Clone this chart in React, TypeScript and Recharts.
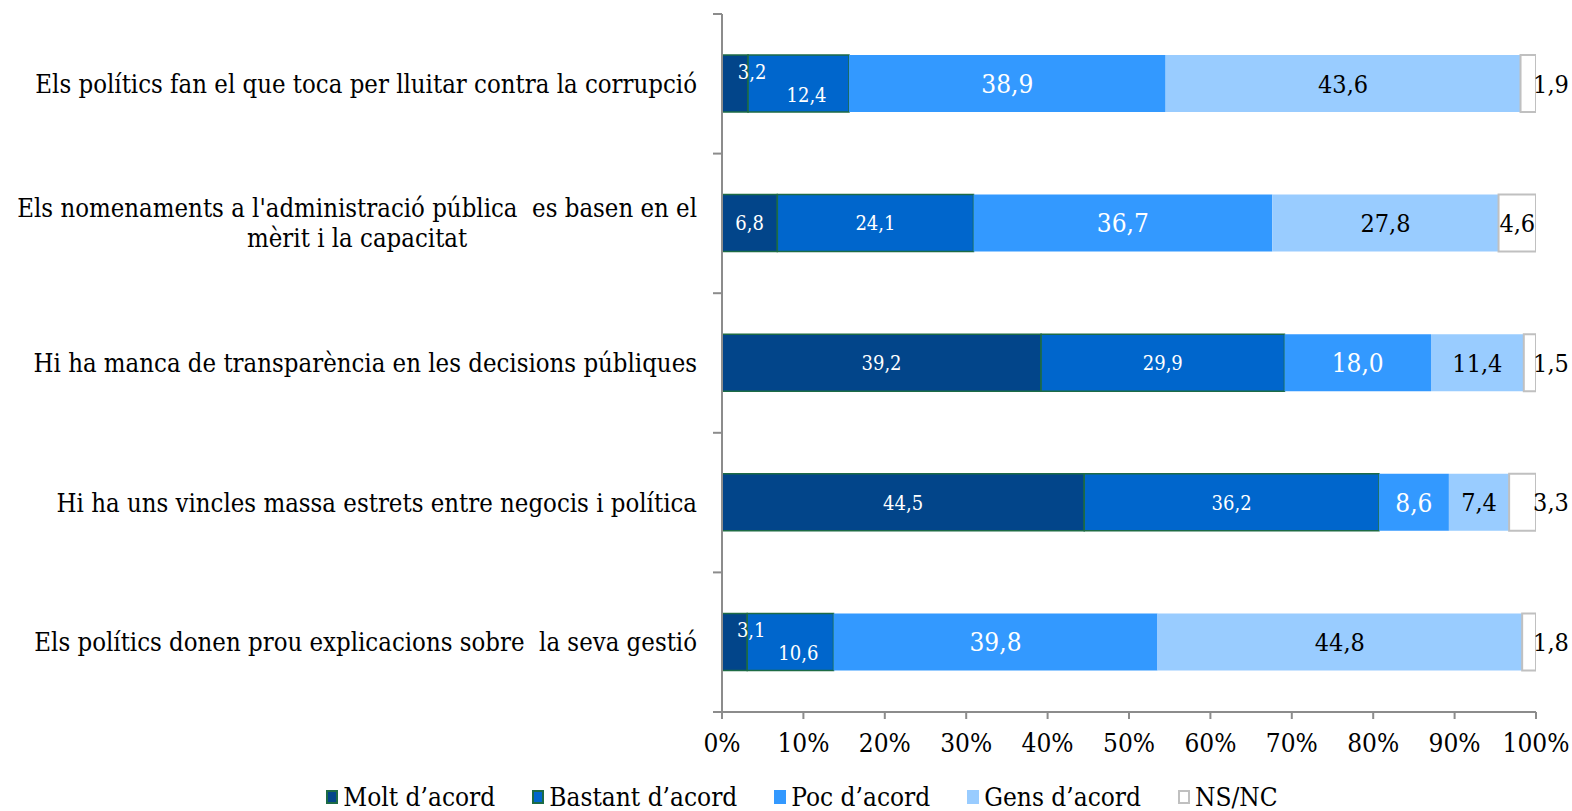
import React from 'react';
import { BarChart, Bar, XAxis, YAxis, LabelList } from 'recharts';

const categories = [
  'Els polítics fan el que toca per lluitar contra la corrupció',
  "Els nomenaments a l'administració pública  es basen en el\nmèrit i la capacitat",
  'Hi ha manca de transparència en les decisions públiques',
  'Hi ha uns vincles massa estrets entre negocis i política',
  'Els polítics donen prou explicacions sobre  la seva gestió',
];
const molt = [3.2, 6.8, 39.2, 44.5, 3.1];
const bastant = [12.4, 24.1, 29.9, 36.2, 10.6];
const poc = [38.9, 36.7, 18.0, 8.6, 39.8];
const gens = [43.6, 27.8, 11.4, 7.4, 44.8];
const nsnc = [1.9, 4.6, 1.5, 3.3, 1.8];
const xTicks = [0, 10, 20, 30, 40, 50, 60, 70, 80, 90, 100];

const seriesNames = ['Molt d’acord', 'Bastant d’acord', 'Poc d’acord', 'Gens d’acord', 'NS/NC'];

const FONT = "'DejaVu Serif Condensed', 'DejaVu Serif', serif";
const AXIS = '#8c8c8c';
const GREEN = '#1d6b45';
const COLORS = ['#02458a', '#0066cc', '#3399ff', '#99ccff', '#ffffff'];
const STROKES = [GREEN, GREEN, 'none', 'none', '#c0c0c0'];

const W = 1572;
const H = 811;
const TOP = 14;
const PLOT_BOTTOM = 712;
const AXIS_X = 722;
const BAND = (PLOT_BOTTOM - TOP) / categories.length;

const data = categories.map((name, i) => ({
  name,
  molt: molt[i],
  bastant: bastant[i],
  poc: poc[i],
  gens: gens[i],
  nsnc: nsnc[i],
}));

const fmt = (v: number) => v.toFixed(1).replace('.', ',');

let ctx: CanvasRenderingContext2D | null = null;
const measure = (text: string, size: number) => {
  if (!ctx) ctx = document.createElement('canvas').getContext('2d');
  if (!ctx) return text.length * size * 0.45;
  ctx.font = `${size}px ${FONT}`;
  return ctx.measureText(text).width;
};

const CategoryTick = (props: any) => {
  const { y, payload, index } = props;
  const lines: string[] = String(payload.value).split('\n');
  const size = 25.5;
  const right = AXIS_X - 25;
  const top = y - BAND / 2;
  let text;
  if (lines.length === 1) {
    text = (
      <text x={right} y={y} dy="0.35em" textAnchor="end" fontSize={size} fontFamily={FONT}
        style={{ whiteSpace: 'pre', fontStretch: 'condensed' }} fill="#000">
        {lines[0]}
      </text>
    );
  } else {
    const w = Math.max(...lines.map((l) => measure(l, size)));
    const cx = right - w / 2;
    text = (
      <text x={cx} y={y} textAnchor="middle" fontSize={size} fontFamily={FONT}
        style={{ whiteSpace: 'pre', fontStretch: 'condensed' }} fill="#000">
        {lines.map((l, k) => (
          <tspan key={k} x={cx} y={y + (k - (lines.length - 1) / 2) * 30} dy="0.35em">
            {l}
          </tspan>
        ))}
      </text>
    );
  }
  return (
    <g>
      <line x1={AXIS_X - 9} x2={AXIS_X} y1={top} y2={top} stroke={AXIS} strokeWidth={2} />
      {index === categories.length - 1 && (
        <line x1={AXIS_X - 9} x2={AXIS_X} y1={top + BAND} y2={top + BAND} stroke={AXIS} strokeWidth={2} />
      )}
      {text}
    </g>
  );
};

const makeLabel = (series: number) => (p: any) => {
  const vb = p.viewBox || p;
  const x = Number(vb.x);
  const y = Number(vb.y);
  const width = Number(vb.width);
  const height = Number(vb.height);
  const index = p.index;
  const value = Number(p.value);
  if (!isFinite(value)) return null;
  let cx = x + width / 2;
  let cy = y + height / 2;
  let size = 25;
  let fill = '#000';
  if (series === 0) {
    size = 20;
    fill = '#fff';
    if (width < 30) {
      cx = x + width + 4;
      cy -= 12;
    }
  } else if (series === 1) {
    size = 20;
    fill = '#fff';
    if (molt[index] < 5) {
      cx += 8;
      cy += 11;
    }
  } else if (series === 2) {
    fill = '#fff';
    size = 26;
  } else if (series === 4) {
    if (width < 30) cx = x + width + 15;
  }
  return (
    <text x={cx} y={cy} dy="0.36em" textAnchor="middle" fontSize={size} fontFamily={FONT}
      style={{ fontStretch: 'condensed' }} fill={fill}>
      {fmt(value)}
    </text>
  );
};

const keys = ['molt', 'bastant', 'poc', 'gens', 'nsnc'];

export default function App() {
  return (
    <div style={{ position: 'absolute', left: 0, top: 0, width: W, height: H, background: '#fff' }}>
      <BarChart
        width={W}
        height={H}
        data={data}
        layout="vertical"
        margin={{ top: TOP, right: 36, bottom: 0, left: 0 }}
        barSize={57}
      >
        <XAxis
          type="number"
          domain={[0, 100]}
          ticks={xTicks}
          allowDataOverflow
          height={H - PLOT_BOTTOM}
          tickFormatter={(v: number) => `${v}%`}
          tick={{ fontSize: 26, fontFamily: FONT, fill: '#000', style: { fontStretch: 'condensed' } } as any}
          axisLine={{ stroke: AXIS, strokeWidth: 2 }}
          tickLine={{ stroke: AXIS, strokeWidth: 2 }}
          tickSize={7}
          tickMargin={15}
        />
        <YAxis
          type="category"
          dataKey="name"
          width={AXIS_X}
          tick={<CategoryTick />}
          tickLine={false}
          axisLine={{ stroke: AXIS, strokeWidth: 2 }}
          interval={0}
        />
        {keys.map((k, i) => (
          <Bar
            key={k}
            dataKey={k}
            stackId="a"
            fill={COLORS[i]}
            stroke={STROKES[i]}
            strokeWidth={i === 4 ? 2 : 1.5}
            isAnimationActive={false}
          >
            <LabelList dataKey={k} content={makeLabel(i)} />
          </Bar>
        ))}
      </BarChart>
      <div
        style={{
          position: 'absolute',
          left: 16,
          top: 782,
          width: W,
          display: 'flex',
          justifyContent: 'center',
          fontFamily: FONT,
          fontStretch: 'condensed',
          fontSize: 26,
          color: '#000',
        }}
      >
        {seriesNames.map((n, i) => (
          <div key={n} style={{ display: 'flex', alignItems: 'center', marginRight: i < 4 ? 37 : 0 }}>
            <span
              style={{
                display: 'inline-block',
                width: 12,
                height: 14,
                background: COLORS[i],
                border: STROKES[i] === 'none' ? '1px solid transparent' : `2px solid ${STROKES[i]}`,
                boxSizing: 'border-box',
                marginRight: 5,
              }}
            />
            <span style={{ lineHeight: '30px' }}>{n}</span>
          </div>
        ))}
      </div>
    </div>
  );
}
